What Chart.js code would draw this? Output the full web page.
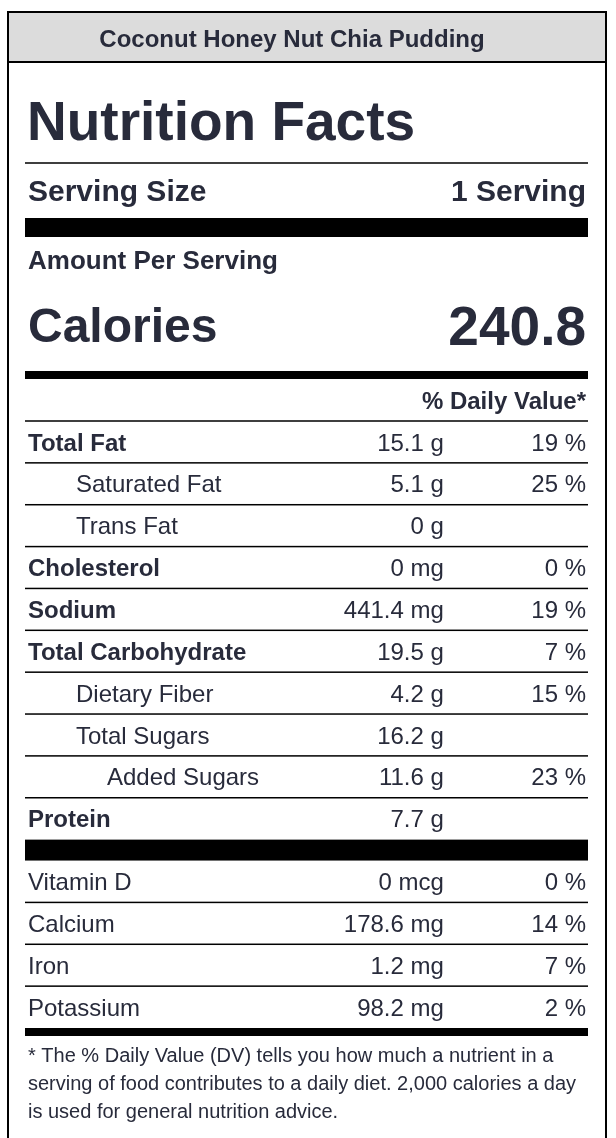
<!DOCTYPE html>
<html>
<head>
<meta charset="utf-8">
<title>Nutrition Facts</title>
<script src="https://cdn.jsdelivr.net/npm/chart.js@4.4.1/dist/chart.umd.min.js"></script>
<style>
    html, body { margin: 0; padding: 0; background: #fff; overflow: hidden; }
    #wrap { position: relative; width: 616px; height: 1138px; }
</style>
</head>
<body>
<div id="wrap"><canvas id="label"></canvas></div>
<script>
// ---- label data ----
const recipeName = 'Coconut Honey Nut Chia Pudding';
const servingSize = '1 Serving';
const calories = '240.8';

const nutrients = ['Total Fat', 'Saturated Fat', 'Trans Fat', 'Cholesterol', 'Sodium',
    'Total Carbohydrate', 'Dietary Fiber', 'Total Sugars', 'Added Sugars', 'Protein'];
const amounts = ['15.1 g', '5.1 g', '0 g', '0 mg', '441.4 mg', '19.5 g', '4.2 g', '16.2 g', '11.6 g', '7.7 g'];
const dailyValues = ['19 %', '25 %', '', '0 %', '19 %', '7 %', '15 %', '', '23 %', ''];
const indentLevels = [0, 1, 1, 0, 0, 0, 1, 1, 2, 0];

const vitamins = ['Vitamin D', 'Calcium', 'Iron', 'Potassium'];
const vitaminAmounts = ['0 mcg', '178.6 mg', '1.2 mg', '98.2 mg'];
const vitaminDaily = ['0 %', '14 %', '7 %', '2 %'];

const footnoteLines = [
    '* The % Daily Value (DV) tells you how much a nutrient in a',
    'serving of food contributes to a daily diet. 2,000 calories a day',
    'is used for general nutrition advice.'
];

// ---- style ----
const INK = '#282b3b';
const FONT = '"Liberation Sans", Arial, Helvetica, sans-serif';
const ROW_SIZE = 24;
const barUnits = 0.5;          // thick bar between protein and vitamins, in row units
const totalUnits = nutrients.length + barUnits + vitamins.length;
const indentPx = [0, 48, 79];

function setFont(ctx, size, bold) {
    ctx.font = (bold ? 'bold ' : '') + size + 'px ' + FONT;
}

// draw text with its cap height centred on cy
function label(ctx, str, x, cy, size, bold, align) {
    setFont(ctx, size, bold);
    ctx.textAlign = align || 'left';
    ctx.textBaseline = 'alphabetic';
    ctx.fillStyle = INK;
    ctx.fillText(str, x, cy + size * 0.36);
}

function hline(ctx, x1, x2, y, w) {
    ctx.fillStyle = '#000';
    ctx.fillRect(x1, y - w / 2, x2 - x1, w);
}

const labelPlugin = {
    id: 'nutritionLabel',
    afterDraw(chart) {
        const ctx = chart.ctx;
        const { left, right } = chart.chartArea;
        const x = chart.scales.x;
        const y = chart.scales.y;
        const textL = left + 3;
        const textR = right - 2;
        const amountR = x.getPixelForValue(0.744);
        ctx.save();

        // frame + title bar
        ctx.fillStyle = '#dcdcdc';
        ctx.fillRect(8, 12, 598, 50);
        ctx.strokeStyle = '#000';
        ctx.lineWidth = 2;
        ctx.beginPath();
        ctx.moveTo(8, 1200); ctx.lineTo(8, 12); ctx.lineTo(606, 12); ctx.lineTo(606, 1200);
        ctx.moveTo(8, 62); ctx.lineTo(606, 62);
        ctx.stroke();
        label(ctx, recipeName, 292, 38, 24, true, 'center');

        // header block
        label(ctx, 'Nutrition Facts', textL - 1, 120, 55, true);
        hline(ctx, left, right, 163, 1.5);
        label(ctx, 'Serving Size', textL, 190, 30, true);
        label(ctx, servingSize, textR, 190, 30, true, 'right');
        ctx.fillStyle = '#000';
        ctx.fillRect(left, 218, right - left, 19);
        label(ctx, 'Amount Per Serving', textL, 260, 26, true);
        label(ctx, 'Calories', textL, 325, 48, true);
        label(ctx, calories, textR, 325, 55, true, 'right');
        ctx.fillStyle = '#000';
        ctx.fillRect(left, 371, right - left, 8);
        label(ctx, '% Daily Value*', textR, 400, ROW_SIZE, true, 'right');
        hline(ctx, left, right, y.getPixelForValue(0), 1.5);

        // main nutrient rows
        nutrients.forEach((name, i) => {
            const cy = y.getPixelForValue(i + 0.5);
            const bold = indentLevels[i] === 0;
            label(ctx, name, textL + indentPx[indentLevels[i]], cy, ROW_SIZE, bold);
            label(ctx, amounts[i], amountR, cy, ROW_SIZE, false, 'right');
            if (dailyValues[i]) label(ctx, dailyValues[i], textR, cy, ROW_SIZE, false, 'right');
            if (i < nutrients.length - 1) hline(ctx, left, right, y.getPixelForValue(i + 1), 1.5);
        });

        // thick bar before vitamins
        const barTop = y.getPixelForValue(nutrients.length);
        const barBot = y.getPixelForValue(nutrients.length + barUnits);
        ctx.fillStyle = '#000';
        ctx.fillRect(left, barTop, right - left, barBot - barTop);

        // vitamins & minerals
        const start = nutrients.length + barUnits;
        vitamins.forEach((name, j) => {
            const cy = y.getPixelForValue(start + j + 0.5);
            label(ctx, name, textL, cy, ROW_SIZE, false);
            label(ctx, vitaminAmounts[j], amountR, cy, ROW_SIZE, false, 'right');
            label(ctx, vitaminDaily[j], textR, cy, ROW_SIZE, false, 'right');
            if (j < vitamins.length - 1) hline(ctx, left, right, y.getPixelForValue(start + j + 1), 1.5);
        });

        // bottom bar + footnote
        const endY = y.getPixelForValue(totalUnits);
        ctx.fillStyle = '#000';
        ctx.fillRect(left, endY, right - left, 8);
        footnoteLines.forEach((line, k) => {
            setFont(ctx, 20, false);
            ctx.textAlign = 'left';
            ctx.textBaseline = 'alphabetic';
            ctx.fillStyle = INK;
            ctx.fillText(line, textL, endY + 34 + k * 28);
        });
        ctx.restore();
    }
};

new Chart(document.getElementById('label'), {
    type: 'scatter',
    data: { datasets: [] },
    options: {
        responsive: true,
        maintainAspectRatio: false,
        animation: false,
        events: [],
        layout: { padding: { top: 421, bottom: 110, left: 25, right: 28 } },
        plugins: { legend: { display: false }, tooltip: { enabled: false } },
        scales: {
            x: { type: 'linear', display: false, min: 0, max: 1 },
            y: { type: 'linear', display: false, reverse: true, min: 0, max: totalUnits }
        }
    },
    plugins: [labelPlugin]
});
</script>
</body>
</html>
